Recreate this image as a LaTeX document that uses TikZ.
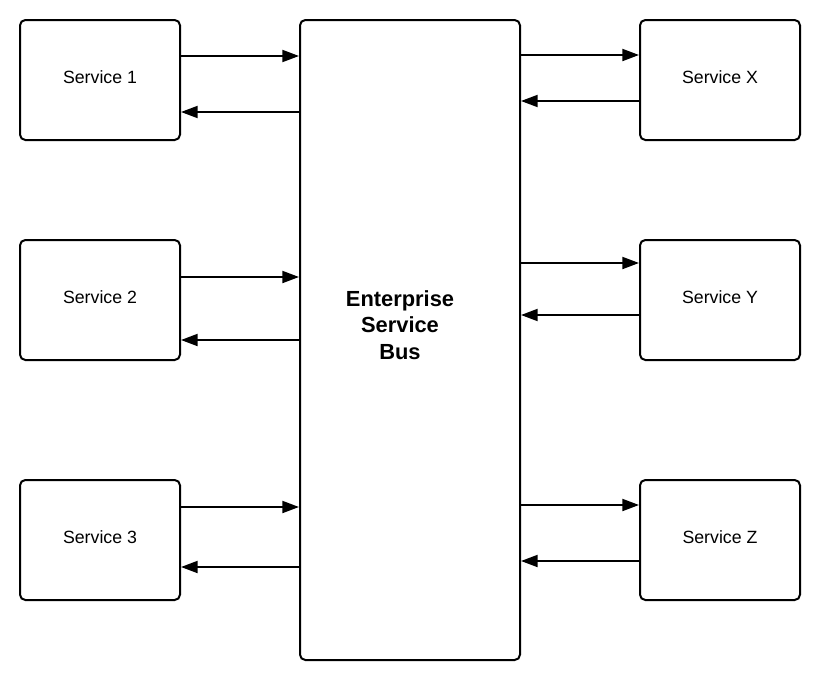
\documentclass[tikz,border=0pt]{standalone}
\usepackage{fontspec}
\setmainfont{Liberation Sans}
\usetikzlibrary{arrows.meta}

\begin{document}
\begin{tikzpicture}[
  x=0.75pt, y=-0.75pt,
  % --- styles ---
  service/.style={
    draw, line width=1.5pt, rounded corners=4pt,
    minimum width=120pt, minimum height=90pt, text depth=4.5pt,
    font=\fontsize{13.3}{16}\selectfont
  },
  esb/.style={
    draw, line width=1.5pt, rounded corners=4pt,
    minimum width=165pt, minimum height=480pt
  },
  esblabel/.style={
    align=center, xshift=-7.5pt, yshift=11.25pt,
    font=\fontsize{16.4}{19.9}\selectfont\bfseries
  },
  arrow/.style={-{Triangle[length=12.5pt, width=9pt]}, line width=1.5pt}
]
\useasboundingbox (0,0) rectangle (818,678);

% ======================================================
% Nodes
% ======================================================
\node[esb, label={[esblabel]center:{Enterprise\\Service\\Bus}}] (bus) at (410,340) {};

\node[service] (s1)  at (100, 80) {Service 1};
\node[service] (s2)  at (100,300) {Service 2};
\node[service] (s3)  at (100,540) {Service 3};

\node[service] (sx)  at (720, 80) {Service X};
\node[service] (sy)  at (720,300) {Service Y};
\node[service] (sz)  at (720,540) {Service Z};

% ======================================================
% Left services <-> bus
% ======================================================
\draw[arrow] ([yshift=18pt]s1.east) -- ([yshift=18pt]s1.east -| bus.west);
\draw[arrow] ([yshift=-24pt]s1.east -| bus.west) -- ([yshift=-24pt]s1.east);

\draw[arrow] ([yshift=17.25pt]s2.east) -- ([yshift=17.25pt]s2.east -| bus.west);
\draw[arrow] ([yshift=-30pt]s2.east -| bus.west) -- ([yshift=-30pt]s2.east);

\draw[arrow] ([yshift=24.75pt]s3.east) -- ([yshift=24.75pt]s3.east -| bus.west);
\draw[arrow] ([yshift=-20.25pt]s3.east -| bus.west) -- ([yshift=-20.25pt]s3.east);

% ======================================================
% Bus <-> right services
% ======================================================
\draw[arrow] ([yshift=18.75pt]sx.west -| bus.east) -- ([yshift=18.75pt]sx.west);
\draw[arrow] ([yshift=-15.75pt]sx.west) -- ([yshift=-15.75pt]sx.west -| bus.east);

\draw[arrow] ([yshift=27.75pt]sy.west -| bus.east) -- ([yshift=27.75pt]sy.west);
\draw[arrow] ([yshift=-11.25pt]sy.west) -- ([yshift=-11.25pt]sy.west -| bus.east);

\draw[arrow] ([yshift=26.25pt]sz.west -| bus.east) -- ([yshift=26.25pt]sz.west);
\draw[arrow] ([yshift=-15.75pt]sz.west) -- ([yshift=-15.75pt]sz.west -| bus.east);

\end{tikzpicture}
\end{document}
